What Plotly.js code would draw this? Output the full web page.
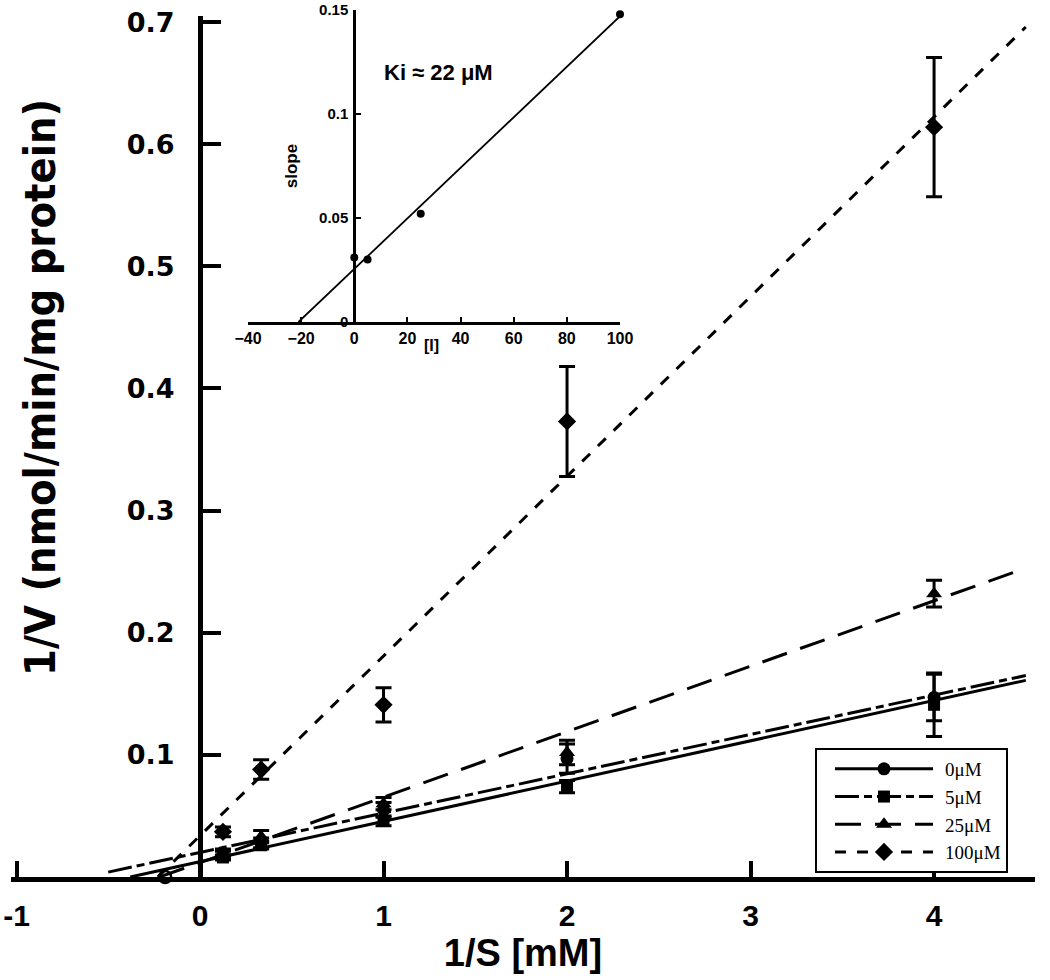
<!DOCTYPE html>
<html>
<head>
<meta charset="utf-8">
<script src="https://cdn.plot.ly/plotly-3.0.1.min.js"></script>
<style>html,body{margin:0;padding:0;background:#fff;}#chart{width:1050px;height:980px;}</style>
</head>
<body>
<div id="chart"></div>
<script>
// ---- main Lineweaver-Burk data ----
const invS = [0.125, 0.333, 1, 2, 4];
const v0 = [0.018, 0.028, 0.055, 0.097, 0.147];
const e0 = [0.003, 0.004, 0.006, 0.012, 0.019];
const v5 = [0.016, 0.026, 0.046, 0.074, 0.141];
const e5 = [0.002, 0.003, 0.004, 0.005, 0.026];
const v25 = [0.020, 0.033, 0.060, 0.102, 0.232];
const e25 = [0.003, 0.005, 0.005, 0.010, 0.011];
const v100 = [0.037, 0.088, 0.141, 0.373, 0.614];
const e100 = [0.004, 0.008, 0.014, 0.045, 0.057];

// fitted lines (end points)
const fit0X = [-0.38, 4.5], fit0Y = [0.0, 0.161];
const fit5X = [-0.5, 4.5], fit5Y = [0.004, 0.165];
const fit25X = [-0.22, 4.5], fit25Y = [0.0, 0.253];
const fit100X = [-0.23, 4.5], fit100Y = [0.0, 0.696];
const xIntX = [-0.19], xIntY = [0.0];

const seriesNames = ['0μM', '5μM', '25μM', '100μM'];

// ---- inset (slope replot) ----
const inhib = [0, 5, 25, 100];
const slopes = [0.031, 0.030, 0.052, 0.148];
const insetFitX = [-21, 100], insetFitY = [0, 0.147];
const insetText = 'Ki ≈ 22 μM';

const xTicks = [-1, 0, 1, 2, 3, 4];
const yTicks = [0.1, 0.2, 0.3, 0.4, 0.5, 0.6, 0.7];
const ixTicks = [-40, -20, 0, 20, 40, 60, 80, 100];
const iyTicks = [0, 0.05, 0.1, 0.15];

const K = '#000';
const dashes = ['solid', '24px,5px,8px,5px', '26px,14px', '11px,11px'];
const symbols = ['circle', 'square', 'triangle-up', 'diamond'];
const sizes = [13, 12, 14, 14];
const vals = [v0, v5, v25, v100];
const errs = [e0, e5, e25, e100];
const fitsX = [fit0X, fit5X, fit25X, fit100X];
const fitsY = [fit0Y, fit5Y, fit25Y, fit100Y];

const traces = [];
for (let i = 0; i < 4; i++) {
  traces.push({
    x: fitsX[i], y: fitsY[i], mode: 'lines', showlegend: false, hoverinfo: 'skip',
    line: {color: K, width: 3, dash: dashes[i]}, cliponaxis: false
  });
  traces.push({
    x: invS, y: vals[i], mode: 'markers', showlegend: false, cliponaxis: false,
    marker: {symbol: symbols[i], size: sizes[i], color: K},
    error_y: {type: 'data', array: errs[i], visible: true, color: K, thickness: 3, width: 8}
  });
}
traces.push({x: xIntX, y: xIntY, mode: 'markers', showlegend: false, cliponaxis: false,
  marker: {symbol: 'circle-open', size: 12, color: K, line: {width: 2.5, color: K}}});
// legend entries
for (let i = 0; i < 4; i++) {
  traces.push({
    x: [null], y: [null], mode: 'lines+markers', name: seriesNames[i],
    line: {color: K, width: 3, dash: dashes[i]},
    marker: {symbol: symbols[i], size: sizes[i], color: K}
  });
}
// inset
traces.push({x: insetFitX, y: insetFitY, xaxis: 'x2', yaxis: 'y2', mode: 'lines',
  showlegend: false, line: {color: K, width: 1.8}, cliponaxis: false});
traces.push({x: inhib, y: slopes, xaxis: 'x2', yaxis: 'y2', mode: 'markers',
  showlegend: false, marker: {color: K, size: 8}, cliponaxis: false});

const plotL = 11, plotR = 1035, plotT = 6, axisY = 877, yTop = 16;
const W = plotR - plotL, H = axisY - plotT;
const xr = [-1.03, 4.55];
const yAxisPos = (0 - xr[0]) / (xr[1] - xr[0]);
const ixDom = [(248 - plotL) / W, (620 - plotL) / W];
const iyDom = [(axisY - 322) / H, (axisY - 10) / H];
const ixr = [-40, 100];
const iyPos = ixDom[0] + (ixDom[1] - ixDom[0]) * (0 - ixr[0]) / (ixr[1] - ixr[0]);

const bold = 'Liberation Sans, Arial, sans-serif';
const layout = {
  width: 1050, height: 980,
  margin: {l: plotL, r: 1050 - plotR, t: plotT, b: 980 - axisY},
  paper_bgcolor: '#fff', plot_bgcolor: 'rgba(0,0,0,0)',
  showlegend: true,
  legend: {x: (815 - plotL) / W, y: (axisY - 748) / H, xanchor: 'left', yanchor: 'top',
    bordercolor: K, borderwidth: 2, bgcolor: '#fff',
    font: {family: 'Liberation Serif, Times New Roman, serif', size: 19, color: K},
    itemwidth: 118, tracegroupgap: 0},
  xaxis: {
    range: xr, domain: [0, 1], anchor: 'y', showgrid: false, zeroline: false,
    showline: true, linecolor: K, linewidth: 5,
    tickvals: xTicks, ticktext: xTicks.map(String), ticks: 'inside', ticklen: 16, tickwidth: 4, tickcolor: K,
    tickfont: {family: bold, size: 30, color: K, weight: 'bold'}, ticklabelstandoff: 8,
    title: {text: '1/S [mM]', font: {family: bold, size: 38, color: K, weight: 'bold'}, standoff: 8},
    automargin: false
  },
  yaxis: {
    range: [0, 0.705], domain: [0, (axisY - yTop) / H], anchor: 'free', position: yAxisPos,
    showgrid: false, zeroline: false, showline: true, linecolor: K, linewidth: 5,
    tickvals: yTicks, ticktext: yTicks.map(v => v.toFixed(1)), ticks: 'inside', ticklen: 18, tickwidth: 4, tickcolor: K,
    tickfont: {family: 'DejaVu Sans, sans-serif', size: 27, color: K, weight: 'bold'}, ticklabelstandoff: 18,
    automargin: false
  },
  xaxis2: {
    range: ixr, domain: ixDom, anchor: 'y2', showgrid: false, zeroline: false,
    showline: true, linecolor: K, linewidth: 2.5,
    tickvals: ixTicks, ticks: 'inside', ticklen: 5, tickwidth: 2, tickcolor: K,
    tickfont: {family: bold, size: 16, color: K, weight: 'bold'}, ticklabelstandoff: 0,
    automargin: false
  },
  yaxis2: {
    range: [0, 0.15], domain: iyDom, anchor: 'free', position: iyPos,
    showgrid: false, zeroline: false, showline: true, linecolor: K, linewidth: 2.5,
    tickvals: iyTicks, ticktext: ['0', '0.05', '0.1', '0.15'], ticks: 'inside', ticklen: 5, tickwidth: 2, tickcolor: K,
    tickfont: {family: bold, size: 15, color: K, weight: 'bold'}, ticklabelstandoff: 2,
    title: {text: 'slope', font: {family: bold, size: 17, color: K, weight: 'bold'}, standoff: 16},
    automargin: false
  },
  annotations: [
    {xref: 'paper', yref: 'paper', x: (40 - plotL) / W, y: (axisY - 388) / H, textangle: -90,
      text: '1/V (nmol/min/mg protein)', showarrow: false, xanchor: 'center', yanchor: 'middle',
      font: {family: 'Liberation Sans Narrow, DejaVu Sans Condensed, sans-serif', size: 43, color: K, weight: 'bold'}},
    {xref: 'x2', yref: 'y2', x: 10.5, y: 0.120, text: insetText, showarrow: false, xanchor: 'left',
      font: {family: bold, size: 22, color: K, weight: 'bold'}},
    {xref: 'x2', yref: 'paper', x: 29, y: (axisY - 345) / H, text: '[I]', showarrow: false,
      font: {family: bold, size: 16, color: K, weight: 'bold'}}
  ]
};

Plotly.newPlot('chart', traces, layout, {displayModeBar: false, staticPlot: true}).then(gd => {
  // lengthen legend line samples to match the original's long key lines
  const L = 98, start = 18;
  gd.querySelectorAll('.legend .traces').forEach(g => {
    g.querySelectorAll('.legendlines path').forEach(p => p.setAttribute('d', 'M' + start + ',0h' + L));
    g.querySelectorAll('.legendpoints path').forEach(p => p.setAttribute('transform', 'translate(' + (start + L / 2) + ',0)'));
  });
});
</script>
</body>
</html>
